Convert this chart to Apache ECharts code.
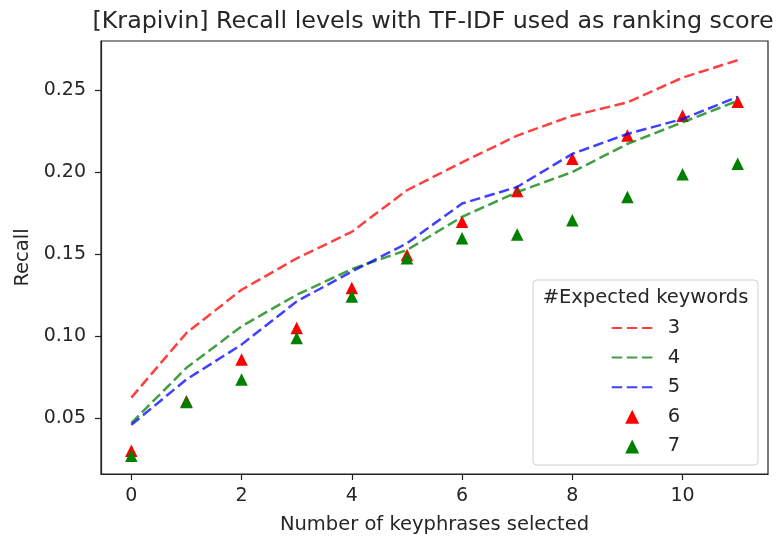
<!DOCTYPE html>
<html>
<head>
<meta charset="utf-8">
<script src="https://cdn.jsdelivr.net/npm/echarts@6/dist/echarts.min.js"></script>
<style>html,body{margin:0;padding:0;background:#fff}#c{width:781px;height:540px}</style>
</head>
<body>
<div id="c"></div>
<script>
var titleText = '[Krapivin] Recall levels with TF-IDF used as ranking score';
var xName = 'Number of keyphrases selected';
var yName = 'Recall';
var legendTitle = '#Expected keywords';
var seriesNames = ['3', '4', '5', '6', '7'];
var xValues = [0, 1, 2, 3, 4, 5, 6, 7, 8, 9, 10, 11];
var xTicks = [0, 2, 4, 6, 8, 10];
var yTicks = [0.05, 0.10, 0.15, 0.20, 0.25];
var s3 = [0.0627, 0.1021, 0.1284, 0.1475, 0.1637, 0.1890, 0.2060, 0.2223, 0.2344, 0.2425, 0.2576, 0.2682];
var s4 = [0.0472, 0.0809, 0.1061, 0.1253, 0.1410, 0.1526, 0.1728, 0.1879, 0.2001, 0.2172, 0.2304, 0.2435];
var s5 = [0.0461, 0.0738, 0.0950, 0.1213, 0.1395, 0.1567, 0.1809, 0.1910, 0.2112, 0.2233, 0.2324, 0.2459];
var s6 = [0.0304, 0.0605, 0.0859, 0.1051, 0.1294, 0.1496, 0.1698, 0.1885, 0.2082, 0.2223, 0.2344, 0.2429];
var s7 = [0.0273, 0.0601, 0.0738, 0.0991, 0.1243, 0.1476, 0.1597, 0.1621, 0.1708, 0.1849, 0.1987, 0.2051];

function pairs(ys) { return xValues.map(function (x, i) { return [x, ys[i]]; }); }

var FONT = 'DejaVu Sans';
var TXT = '#262626';
var dash = [10.5, 4.6];
var TRI = 'path://M5,0 L10,10 L0,10 Z';

var chart = echarts.init(document.getElementById('c'), null, {renderer: 'canvas'});
chart.setOption({
  animation: false,
  backgroundColor: '#ffffff',
  title: {
    text: titleText,
    left: 433,
    top: 10,
    padding: 0,
    textAlign: 'center',
    textStyle: {fontFamily: FONT, fontSize: 23.8, fontWeight: 'normal', color: TXT}
  },
  grid: {
    left: 101, right: 13, top: 41, bottom: 65,
    show: true, borderColor: '#222', borderWidth: 1.2, backgroundColor: 'transparent'
  },
  xAxis: {
    type: 'value', min: -0.55, max: 11.55,
    name: xName, nameLocation: 'middle', nameGap: 41,
    nameTextStyle: {fontFamily: FONT, fontSize: 19.5, color: TXT},
    axisLine: {show: true, onZero: false, lineStyle: {color: '#222', width: 1.2}},
    axisTick: {show: true, customValues: xTicks, length: 6, lineStyle: {color: '#222', width: 1.2}},
    axisLabel: {customValues: xTicks, margin: 13, fontFamily: FONT, fontSize: 19, color: TXT},
    splitLine: {show: false}
  },
  yAxis: {
    type: 'value', min: 0.0162, max: 0.2799,
    name: yName, nameLocation: 'middle', nameGap: 68, nameRotate: 90,
    nameTextStyle: {fontFamily: FONT, fontSize: 19.5, color: TXT},
    axisLine: {show: true, onZero: false, lineStyle: {color: '#222', width: 1.2}},
    axisTick: {show: true, customValues: yTicks, length: 6, lineStyle: {color: '#222', width: 1.2}},
    axisLabel: {customValues: yTicks, margin: 15, fontFamily: FONT, fontSize: 19, color: TXT,
      formatter: function (v) { return v.toFixed(2); }},
    splitLine: {show: false}
  },
  legend: {
    orient: 'vertical',
    left: 610.7, top: 318,
    padding: 0,
    itemWidth: 41, itemHeight: 14, itemGap: 9.6,
    symbolKeepAspect: true,
    textStyle: {fontFamily: FONT, fontSize: 19.5, color: TXT, lineHeight: 20, padding: [0, 0, 0, 10]},
    data: [
      {name: seriesNames[0], itemStyle: {opacity: 0}},
      {name: seriesNames[1], itemStyle: {opacity: 0}},
      {name: seriesNames[2], itemStyle: {opacity: 0}},
      {name: seriesNames[3], icon: TRI},
      {name: seriesNames[4], icon: TRI}
    ],
    z: 10
  },
  graphic: [
    {type: 'rect', shape: {x: 533, y: 280, width: 225, height: 185, r: 4}, z: 5,
      style: {fill: 'rgba(255,255,255,0.8)', stroke: '#d0d0d0', lineWidth: 1}},
    {type: 'text', z: 6, style: {text: legendTitle, x: 645.5, y: 298, textAlign: 'center', textVerticalAlign: 'middle',
      font: '19.5px "DejaVu Sans"', fill: TXT}}
  ],
  series: [
    {name: seriesNames[0], type: 'line', data: pairs(s3), symbol: 'none', color: 'rgba(255,0,0,0.75)',
      lineStyle: {color: 'rgba(255,0,0,0.75)', width: 2.5, type: dash}},
    {name: seriesNames[1], type: 'line', data: pairs(s4), symbol: 'none', color: 'rgba(0,128,0,0.75)',
      lineStyle: {color: 'rgba(0,128,0,0.75)', width: 2.5, type: dash}},
    {name: seriesNames[2], type: 'line', data: pairs(s5), symbol: 'none', color: 'rgba(0,0,255,0.75)',
      lineStyle: {color: 'rgba(0,0,255,0.75)', width: 2.5, type: dash}},
    {name: seriesNames[3], type: 'scatter', data: pairs(s6), symbol: 'triangle', symbolSize: 12.5,
      itemStyle: {color: '#ff0000', opacity: 1}},
    {name: seriesNames[4], type: 'scatter', data: pairs(s7), symbol: 'triangle', symbolSize: 12.5,
      itemStyle: {color: '#008000', opacity: 1}}
  ]
});
</script>
</body>
</html>
